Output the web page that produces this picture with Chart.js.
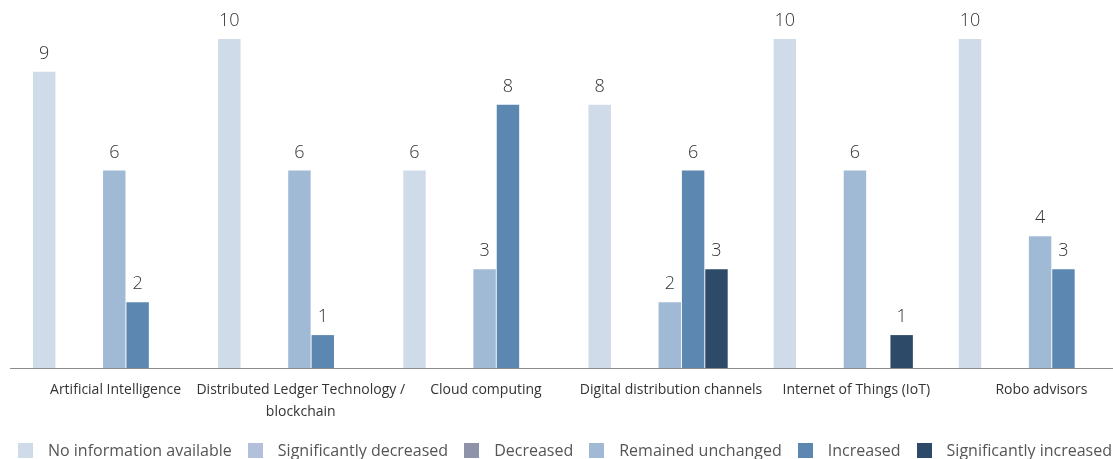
<!DOCTYPE html>
<html>
<head>
<meta charset="utf-8">
<script src="https://cdn.jsdelivr.net/npm/chart.js@4.4.1/dist/chart.umd.min.js"></script>
<style>
    body { margin: 0; background: #fff; overflow: hidden; }
    #wrap { position: relative; width: 1113px; height: 459px; overflow: hidden; }
    #legend {
        position: absolute; left: 18px; top: 439px;
        display: flex; align-items: center;
        font: 16px "Open Sans", sans-serif; color: #555; white-space: nowrap;
    }
    #legend span.box { display: inline-block; width: 15px; height: 15px; margin-right: 15px; }
    #legend span.item { display: flex; align-items: center; margin-right: 16px; }
</style>
</head>
<body>
<div id="wrap">
    <canvas id="grafica" width="1121" height="459"></canvas>
    <div id="legend"></div>
</div>
<script>
const categorias = [
    'Artificial Intelligence',
    ['Distributed Ledger Technology /', 'blockchain'],
    'Cloud computing',
    'Digital distribution channels',
    'Internet of Things (IoT)',
    'Robo advisors'
];
const series = ['No information available', 'Significantly decreased', 'Decreased',
    'Remained unchanged', 'Increased', 'Significantly increased'];
const colores = ['#cfdbe9', '#b3c0db', '#8e93a9', '#a0bad5', '#5c87b1', '#2d4a69'];

const sinInfo     = [9, 10, 6, 8, 10, 10];
const muyBajo     = [0, 0, 0, 0, 0, 0];
const bajo        = [0, 0, 0, 0, 0, 0];
const igual       = [6, 6, 3, 2, 6, 4];
const subio       = [2, 1, 8, 6, 0, 3];
const muySubio    = [0, 0, 0, 3, 1, 0];
const valores = [sinInfo, muyBajo, bajo, igual, subio, muySubio];

// numeros encima de cada barra (se omiten los ceros)
const etiquetas = {
    id: 'etiquetas',
    afterDatasetsDraw(chart) {
        const ctx = chart.ctx;
        ctx.save();
        ctx.font = '300 18px "Open Sans"';
        ctx.fillStyle = '#333';
        ctx.textAlign = 'center';
        ctx.textBaseline = 'alphabetic';
        chart.data.datasets.forEach((ds, i) => {
            chart.getDatasetMeta(i).data.forEach((barra, j) => {
                const v = ds.data[j];
                if (!v) return;
                ctx.fillText(v, barra.x, barra.y - 13);
            });
        });
        ctx.restore();
    }
};

const ctx = document.getElementById('grafica');
const myChart = new Chart(ctx, {
    type: 'bar',
    data: {
        labels: categorias,
        datasets: series.map((nombre, i) => ({
            label: nombre,
            data: valores[i],
            backgroundColor: colores[i],
            borderWidth: 0,
            categoryPercentage: 0.757,
            barPercentage: 0.96
        }))
    },
    options: {
        responsive: false,
        animation: false,
        layout: { padding: { top: 6, left: 10, right: 0, bottom: 0 } },
        plugins: {
            legend: { display: false },
            tooltip: { enabled: false }
        },
        scales: {
            x: {
                grid: { display: true, drawOnChartArea: false, drawTicks: false },
                border: { display: true, color: '#8c8c8c', width: 1 },
                ticks: {
                    color: '#333',
                    font: { family: 'Open Sans', size: 14, lineHeight: 1.55 },
                    padding: 11,
                    labelOffset: 13,
                    maxRotation: 0,
                    autoSkip: false
                },
                afterFit: function(scale) { scale.height = 91; }
            },
            y: {
                display: false,
                min: 0,
                max: 11
            }
        }
    },
    plugins: [etiquetas]
});

// leyenda en html debajo del grafico
const leyenda = document.getElementById('legend');
series.forEach((nombre, i) => {
    const item = document.createElement('span');
    item.className = 'item';
    item.innerHTML = '<span class="box" style="background:' + colores[i] + '"></span>' + nombre;
    leyenda.appendChild(item);
});
</script>
</body>
</html>
